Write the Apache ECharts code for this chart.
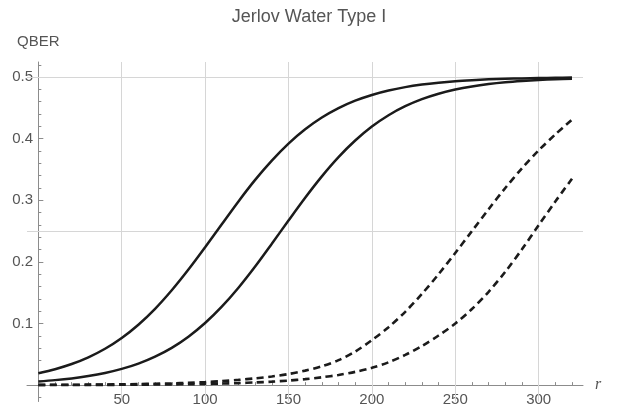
<!DOCTYPE html>
<html>
<head>
<meta charset="utf-8">
<script src="https://cdn.jsdelivr.net/npm/echarts@6/dist/echarts.min.js"></script>
<style>
  html, body { margin: 0; padding: 0; background: #fff; }
  #chart { width: 618px; height: 411px; }
</style>
</head>
<body>
<div id="chart"></div>
<script>
// Distance r (every 10 units)
const rValues = [0, 10, 20, 30, 40, 50, 60, 70, 80, 90, 100, 110, 120, 130, 140, 150, 160,
  170, 180, 190, 200, 210, 220, 230, 240, 250, 260, 270, 280, 290, 300, 310, 320];

// QBER curves
const solidA = [0.0194, 0.0258, 0.0342, 0.0451, 0.059, 0.0765, 0.098, 0.1238, 0.1539, 0.1875,
  0.2237, 0.2611, 0.2982, 0.3331, 0.3644, 0.392, 0.4152, 0.4343, 0.4496, 0.4617, 0.471,
  0.4782, 0.4837, 0.4878, 0.4909, 0.4933, 0.495, 0.4963, 0.4972, 0.4979, 0.4985, 0.4989, 0.4992];
const solidB = [0.006, 0.0081, 0.0109, 0.0147, 0.0197, 0.0263, 0.0349, 0.0462, 0.0605, 0.0786,
  0.1008, 0.1273, 0.1581, 0.1925, 0.2295, 0.2672, 0.3042, 0.3389, 0.3701, 0.397, 0.4197,
  0.4381, 0.4527, 0.4642, 0.473, 0.4798, 0.4849, 0.4888, 0.4917, 0.4938, 0.4954, 0.4966, 0.4975];
const dashedA = [0.0004, 0.0005, 0.0006, 0.0008, 0.001, 0.0013, 0.0017, 0.0022, 0.0029, 0.0038,
  0.005, 0.0065, 0.0085, 0.011, 0.014, 0.018, 0.0235, 0.0305, 0.0405, 0.0545, 0.073,
  0.094, 0.119, 0.148, 0.18, 0.2145, 0.25, 0.2855, 0.32, 0.352, 0.381, 0.407, 0.431];
const dashedB = [0.0002, 0.0002, 0.0003, 0.0003, 0.0004, 0.0005, 0.0007, 0.0009, 0.0012, 0.0015,
  0.0019, 0.0025, 0.0033, 0.0043, 0.0056, 0.0074, 0.0097, 0.0127, 0.0165, 0.0215, 0.028,
  0.037, 0.049, 0.0635, 0.0805, 0.1, 0.1235, 0.1515, 0.184, 0.2205, 0.2595, 0.298, 0.335];

// Ticks and grid lines
const xMajorTicks = [50, 100, 150, 200, 250, 300];
const xMinorTicks = [10, 20, 30, 40, 60, 70, 80, 90, 110, 120, 130, 140, 160, 170, 180, 190,
  210, 220, 230, 240, 260, 270, 280, 290, 310, 320];
const yMajorTicks = [0.1, 0.2, 0.3, 0.4, 0.5];
const yMinorTicks = [-0.02, 0.02, 0.04, 0.06, 0.08, 0.12, 0.14, 0.16, 0.18, 0.22, 0.24, 0.26,
  0.28, 0.32, 0.34, 0.36, 0.38, 0.42, 0.44, 0.46, 0.48, 0.52];
const xGridLines = [50, 100, 150, 200, 250, 300];
const yGridLines = [0.25, 0.5];

const X_MIN = -6.8, X_MAX = 326.6, Y_MIN = -0.0266, Y_MAX = 0.5245;
const FONT = '"Liberation Sans", Arial, sans-serif';
const TEXT = '#555';
const AXIS = '#8c8c8c';

const pairs = ys => rValues.map((r, i) => [r, ys[i]]);

function xAxisDef(ticks, len, labels) {
  return {
    type: 'value', min: X_MIN, max: X_MAX, position: 'bottom',
    axisLine: { show: labels, onZero: true, lineStyle: { color: AXIS, width: 1 } },
    axisTick: { show: true, inside: true, length: len, customValues: ticks,
      lineStyle: { color: AXIS, width: 1 } },
    axisLabel: { show: labels, customValues: ticks, margin: -9, color: TEXT,
      fontFamily: FONT, fontSize: 15 },
    splitLine: { show: false }
  };
}
function yAxisDef(ticks, len, labels) {
  return {
    type: 'value', min: Y_MIN, max: Y_MAX, position: 'left',
    axisLine: { show: labels, onZero: true, lineStyle: { color: AXIS, width: 1 } },
    axisTick: { show: true, inside: true, length: len, customValues: ticks,
      lineStyle: { color: AXIS, width: 1 } },
    axisLabel: { show: labels, customValues: ticks, margin: -6, color: TEXT,
      fontFamily: FONT, fontSize: 15, formatter: v => v.toFixed(1) },
    splitLine: { show: false },
    name: labels ? 'QBER' : '', nameLocation: 'end', nameGap: 13,
    nameTextStyle: { fontFamily: FONT, fontSize: 15, color: TEXT, align: 'center' }
  };
}

const solidStyle = { color: '#1b1b1b', width: 2.5, type: 'solid' };
const dashStyle = { color: '#1b1b1b', width: 2.6, type: [7, 4.5] };

function curve(name, ys, style) {
  return {
    name, type: 'line', data: pairs(ys), showSymbol: false, smooth: 0.3,
    lineStyle: style, z: 5, silent: true, animation: false
  };
}

const chart = echarts.init(document.getElementById('chart'), null, { renderer: 'canvas' });
chart.setOption({
  animation: false,
  backgroundColor: '#fff',
  title: {
    text: 'Jerlov Water Type I', left: 'center', top: 3,
    textStyle: { fontFamily: FONT, fontWeight: 'normal', fontSize: 18, color: TEXT }
  },
  grid: { left: 27, right: 35, top: 62, bottom: 9.5, containLabel: false,
    outerBoundsMode: 'none' },
  xAxis: [xAxisDef(xMajorTicks, 5, true), xAxisDef(xMinorTicks, 3, false)],
  yAxis: [yAxisDef(yMajorTicks, 5, true), yAxisDef(yMinorTicks, 3, false)],
  series: [
    {
      name: 'grid', type: 'line', data: [], z: 1, silent: true,
      markLine: {
        silent: true, symbol: 'none', label: { show: false },
        lineStyle: { color: '#d6d6d6', width: 1, type: 'solid' },
        data: xGridLines.map(v => ({ xAxis: v })).concat(yGridLines.map(v => ({ yAxis: v })))
      }
    },
    curve('solidA', solidA, solidStyle),
    curve('solidB', solidB, solidStyle),
    curve('dashedA', dashedA, dashStyle),
    curve('dashedB', dashedB, dashStyle)
  ]
});

// Italic axis name "r" placed just past the end of the horizontal axis
const axisEnd = chart.convertToPixel({ xAxisIndex: 0, yAxisIndex: 0 }, [X_MAX, 0]);
chart.setOption({
  graphic: [{
    type: 'text', x: axisEnd[0] + 15, y: axisEnd[1],
    style: {
      text: 'r', fill: TEXT, align: 'center', verticalAlign: 'middle',
      font: 'italic 16px "Liberation Serif", "Times New Roman", serif'
    }
  }]
});
</script>
</body>
</html>
